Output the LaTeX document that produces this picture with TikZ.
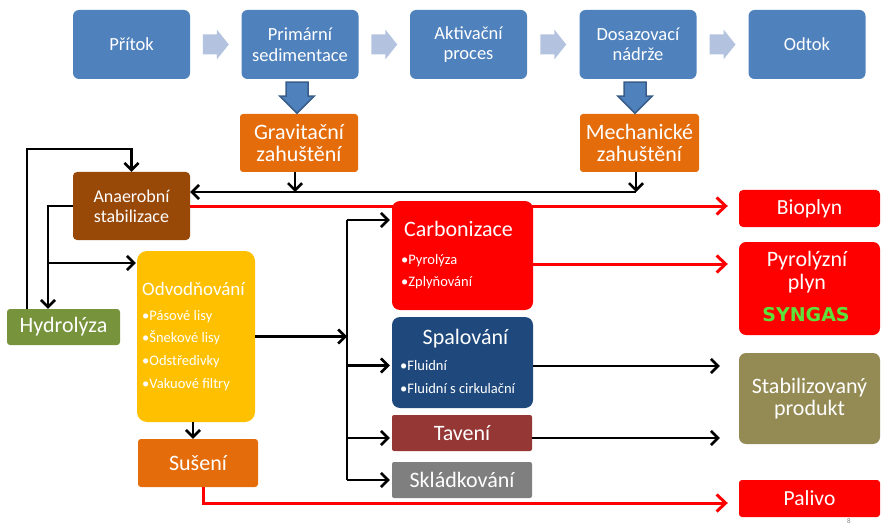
\documentclass[tikz,border=0pt]{standalone}
\usepackage{fontspec}
\setmainfont{Carlito}
\newfontfamily\syngasfont{DejaVu Sans}
\usetikzlibrary{arrows.meta,calc}
\definecolor{modra}{HTML}{4F81BD}
\definecolor{modraokraj}{HTML}{385D8A}
\definecolor{svetla}{HTML}{B3C3DF}
\definecolor{oranzova}{HTML}{E46C0A}
\definecolor{hneda}{HTML}{984807}
\definecolor{zelena}{HTML}{77933C}
\definecolor{zluta}{HTML}{FFC000}
\definecolor{cervena}{HTML}{FF0000}
\definecolor{tmavamodra}{HTML}{1F497D}
\definecolor{vinova}{HTML}{953735}
\definecolor{seda}{HTML}{7F7F7F}
\definecolor{olivova}{HTML}{948A54}
\definecolor{syngas}{RGB}{92,226,58}

\begin{document}
\begin{tikzpicture}[x=1pt,y=-1pt,
	box/.style={text=white,align=center,inner sep=0pt},
	horni/.style={box,fill=modra,rounded corners=6pt,minimum width=117pt,minimum height=69pt,font=\fontsize{18.5}{20.5}\selectfont},
	velky/.style={font=\fontsize{22}{22}\selectfont},
	odrazka/.style={text=white,inner sep=0pt,anchor=base west,font=\fontsize{14.5}{16}\selectfont},
	sipka/.style={line width=2.6pt,-{Straight Barb[length=7pt,width=14pt]}},
	cara/.style={line width=2.6pt},
	rsipka/.style={line width=3pt,cervena,-{Straight Barb[length=9pt,width=17pt]}},
	blokova/.style={fill=modra,draw=modraokraj,line width=1.5pt,line join=miter}]
\useasboundingbox (0,0) rectangle (892,532);

% horni rada
\node[horni] (pritok) at (131.5,44.5) {Přítok};
\node[horni] (prim) at (300,44.5) {Primární\\sedimentace};
\node[horni] (akt) at (468.5,44.5) {Aktivační\\proces};
\node[horni] (dos) at (638,44.5) {Dosazovací\\nádrže};
\node[horni] (odtok) at (807,44.5) {Odtok};
\foreach \a/\b in {pritok/prim,prim/akt,akt/dos,dos/odtok}
	\fill[svetla] ($(\a.east)!0.5!(\b.west)$) ++(-13,-10) -- ++(14,0) -- ++(0,-5) -- ++(12,15) -- ++(-12,15) -- ++(0,-5) -- ++(-14,0) -- cycle;

% zahusteni
\node[box,velky,fill=oranzova,rounded corners=3pt,minimum width=118pt,minimum height=58pt] (grav) at (299,143) {Gravitační\\zahuštění};
\node[box,velky,fill=oranzova,rounded corners=3pt,minimum width=119pt,minimum height=58pt] (mech) at (639.5,143) {Mechanické\\zahuštění};
\foreach \a in {prim,dos}
	\filldraw[blokova] ([xshift=-3pt]\a.south) ++(-11,3) -- ++(22,0) -- ++(0,14) -- ++(6,0) -- ++(-17,17) -- ++(-17,-17) -- ++(6,0) -- cycle;

% leva cast
\node[box,fill=hneda,rounded corners=4pt,minimum width=117pt,minimum height=68pt,font=\fontsize{18}{20}\selectfont] (anaer) at (131.5,206) {Anaerobní\\stabilizace};
\node[box,velky,fill=zelena,rounded corners=3pt,minimum width=113pt,minimum height=36pt] (hydro) at (63.5,327) {Hydrolýza};
\node[box,fill=zluta,rounded corners=10pt,minimum width=118pt,minimum height=171pt] (odv) at (196,336.5) {};
\node[text=white,inner sep=0pt,anchor=base west,font=\fontsize{19}{20}\selectfont] (odvnadpis) at (142,295) {Odvodňování};
\foreach \t [count=\i] in {Pásové lisy,Šnekové lisy,Odstředivky,Vakuové filtry}
	\node[odrazka] (odv\i) at (142,297.5+22.7*\i) {•\t};
\node[box,velky,fill=oranzova,rounded corners=3pt,minimum width=120pt,minimum height=48pt] (sus) at (198,463) {Sušení};

% zpracovani
\node[box,fill=cervena,rounded corners=8pt,minimum width=141pt,minimum height=109pt] (carb) at (462.5,255.5) {};
\node[text=white,inner sep=0pt,anchor=base,velky] (carbnadpis) at (458.5,236.7) {Carbonizace};
\node[odrazka] (carb1) at (401,264) {•Pyrolýza};
\node[odrazka] (carb2) at (401,286) {•Zplyňování};
\node[box,fill=tmavamodra,rounded corners=8pt,minimum width=141pt,minimum height=91pt] (spal) at (462.5,362.5) {};
\node[text=white,inner sep=0pt,anchor=base,velky] (spalnadpis) at (465.5,344) {Spalování};
\node[odrazka] (spal1) at (400,370.7) {•Fluidní};
\node[odrazka] (spal2) at (400,393) {•Fluidní s cirkulační};
\node[box,velky,fill=vinova,rounded corners=2pt,minimum width=140pt,minimum height=36pt] (tav) at (462,433) {Tavení};
\node[box,velky,fill=seda,rounded corners=2pt,minimum width=140pt,minimum height=36pt] (skl) at (462,480) {Skládkování};

% produkty
\node[box,fill=cervena,rounded corners=4pt,minimum width=141pt,minimum height=37pt,font=\fontsize{21.5}{22}\selectfont] (bio) at (809.5,208.5) {Bioplyn};
\node[box,fill=cervena,rounded corners=7pt,minimum width=141pt,minimum height=93pt] (pyro) at (809.5,288.5) {};
\node[text=white,inner sep=0pt,anchor=base,velky] (pyro1) at (807,266) {Pyrolýzní};
\node[text=white,inner sep=0pt,anchor=base,velky] (pyro2) at (807,289) {plyn};
\node[text=syngas,inner sep=0pt,anchor=base,font=\syngasfont\bfseries\fontsize{19}{20}\selectfont] (syn) at (806,321) {SYNGAS};
\node[box,velky,fill=olivova,rounded corners=7pt,minimum width=141pt,minimum height=91pt] (stab) at (809.5,398.5) {Stabilizovaný\\produkt};
\node[box,fill=cervena,rounded corners=3pt,minimum width=141pt,minimum height=37pt,font=\fontsize{21.5}{22}\selectfont] (pal) at (809.5,498.5) {Palivo};
\node[text=seda,inner sep=0pt,font=\fontsize{7}{7}\selectfont] (strana) at (849,521) {8};

% spojnice
\coordinate (spoj) at (636,192);
\coordinate (smycka) at (27,149);
\coordinate (vetev) at (48,263);
\coordinate (sbernice) at (347,220);
\coordinate (pal0) at (203,503);
\draw[sipka] ([xshift=-4pt]grav.south) -- ([xshift=-4pt]grav.south |- spoj);
\draw[sipka] (spoj |- mech.south) -- (spoj);
\draw[sipka] (spoj) -- (spoj -| anaer.east);
\draw[sipka] (smycka |- hydro.north) -- (smycka) -- (smycka -| anaer.north) -- (anaer.north);
\draw[sipka] (anaer.west) -- (anaer.west -| vetev) -- (vetev |- hydro.north);
\draw[sipka,shorten >=1pt] (vetev) -- (vetev -| odv.west);
\draw[sipka] ([xshift=-3pt]odv.south) -- ([xshift=-3pt]odv.south |- sus.north);
\draw[sipka] (odv.east) -- (odv.east -| sbernice);
\draw[cara] (sbernice) -- (sbernice |- skl.east);
\draw[sipka,shorten >=2pt] (sbernice) -- (sbernice -| carb.west);
\draw[sipka,shorten >=2pt] ([yshift=-3pt]sbernice |- spal.west) -- ([yshift=-3pt]spal.west);
\draw[sipka,shorten >=2pt] ([yshift=-5pt]sbernice |- tav.west) -- ([yshift=-5pt]tav.west);
\draw[sipka,shorten >=2pt] (sbernice |- skl.west) -- (skl.west);
\draw[sipka,shorten >=19pt] ([yshift=-3.5pt]spal.east) -- ([yshift=-3.5pt]spal.east -| stab.west);
\draw[sipka,shorten >=19pt] ([yshift=-5pt]tav.east) -- ([yshift=-5pt]tav.east -| stab.west);
\draw[rsipka,shorten >=11pt] (anaer.east) -- (anaer.east -| bio.west);
\draw[rsipka,shorten >=11pt] ([yshift=-8.5pt]carb.east) -- ([yshift=-8.5pt]carb.east -| pyro.west);
\draw[rsipka,shorten >=11pt] (pal0 |- sus.south) -- (pal0) -- (pal0 -| pal.west);
\end{tikzpicture}
\end{document}
